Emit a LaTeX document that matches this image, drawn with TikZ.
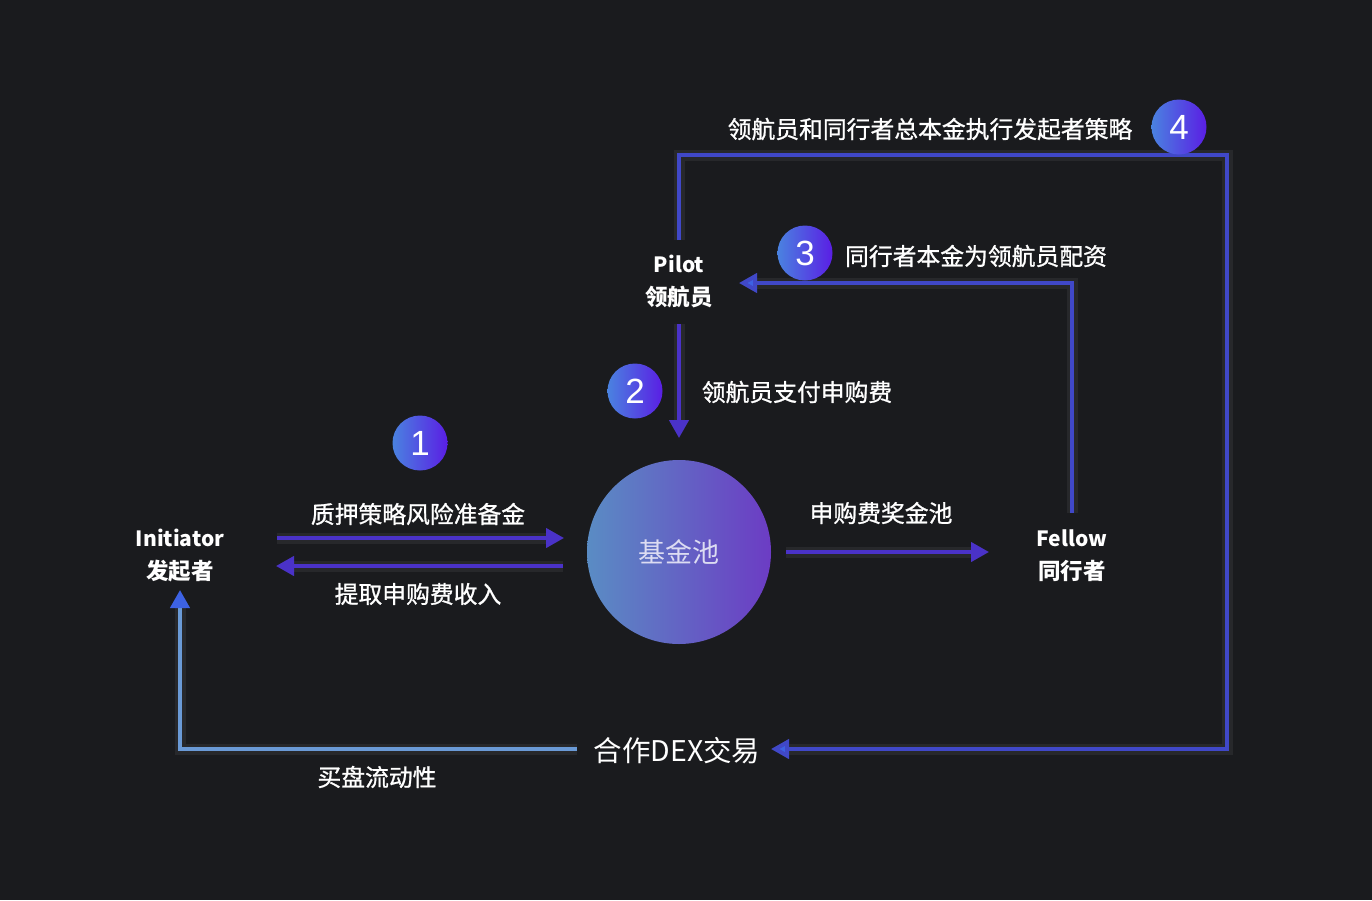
\documentclass[tikz,border=0pt]{standalone}
\usepackage{fontspec}
\setmainfont{Noto Sans CJK SC}
\newfontfamily\lblfont[FakeBold=1]{Noto Sans CJK SC}
\newfontfamily\numfont{Liberation Sans}
\usetikzlibrary{arrows.meta,shadings}
\definecolor{bg}{HTML}{1A1B1E}
\definecolor{arrpurple}{HTML}{4A32C8}
\definecolor{arrblue}{HTML}{4048C8}
\definecolor{headblue}{HTML}{3D62E4}
\definecolor{liqblue}{HTML}{6A9AD6}
\definecolor{poolL}{HTML}{5A8CC4}
\definecolor{poolR}{HTML}{6C3CC4}
\definecolor{badgeL}{HTML}{4A82E0}
\definecolor{badgeR}{HTML}{5A1EE4}
\definecolor{pooltext}{HTML}{DCDCF2}
\newcommand{\twoline}[2]{\begin{tabular}{@{}c@{}}{\fontsize{21}{33}\selectfont #1}\\#2\end{tabular}}
\tikzset{
  x=1pt, y=-1pt,
  actor/.style={text=white, font=\bfseries\fontsize{22.5}{33}\selectfont, inner sep=0pt},
  lbl/.style={text=white, font=\lblfont\fontsize{23.8}{28}\selectfont, inner sep=0pt},
  badge/.style={circle, minimum size=55pt, inner sep=0pt, left color=badgeL, right color=badgeR, text=white, font=\numfont\fontsize{35}{35}\selectfont},
  glow/.style={preaction={draw=white, opacity=0.06, line width=11pt}},
  flow/.style={glow, line width=4pt, draw=arrpurple, -{Triangle[length=18pt,width=19pt]}},
  loopb/.style={glow, line width=4pt, draw=arrblue, -{Triangle[length=18pt,width=19pt,fill=headblue]}},
  liq/.style={glow, line width=4pt, draw=liqblue, -{Triangle[length=18pt,width=19pt,fill=headblue,color=headblue]}},
}
\begin{document}
\begin{tikzpicture}
\fill[bg] (0,0) rectangle (1372,900);
\useasboundingbox (0,0) rectangle (1372,900);

% coordinates
\coordinate (a1s) at (277,538);
\coordinate (a1e) at (564,538);
\coordinate (a2s) at (563,566);
\coordinate (a2e) at (276,566);
\coordinate (p1) at (679,324);
\coordinate (p2) at (679,438);
\coordinate (f1) at (786,552);
\coordinate (f2) at (989,552);
\coordinate (c3a) at (1072,513);
\coordinate (c3b) at (1072,283);
\coordinate (c3c) at (739,283);
\coordinate (c4a) at (679,240);
\coordinate (c4b) at (679,155);
\coordinate (c4c) at (1227,155);
\coordinate (c4d) at (1227,749);
\coordinate (c4e) at (771,749);
\coordinate (l1) at (577,749);
\coordinate (l2) at (180,749);
\coordinate (l3) at (180,590);

% connectors
\draw[flow] (a1s) -- (a1e);
\draw[flow] (a2s) -- (a2e);
\draw[flow] (p1) -- (p2);
\draw[flow] (f1) -- (f2);
\draw[loopb] (c3a) -- (c3b) -- (c3c);
\draw[loopb] (c4a) -- (c4b) -- (c4c) -- (c4d) -- (c4e);
\draw[liq] (l1) -- (l2) -- (l3);

% pool and dex
\node[circle, minimum size=184pt, inner sep=0pt, left color=poolL, right color=poolR,
      text=pooltext, font=\fontsize{27}{27}\selectfont] (pool) at (679,552) {基金池};
\node[text=white, font=\fontsize{28.5}{28}\selectfont, inner sep=0pt] (dex) at (677,751) {合作DEX交易};

% labels
\node[lbl] (t1) at (418,514) {质押策略风险准备金};
\node[lbl] (t1b) at (418,594) {提取申购费收入};
\node[lbl] (t2) at (797,392) {领航员支付申购费};
\node[lbl] (t5) at (881,513) {申购费奖金池};
\node[lbl] (t3) at (976,256) {同行者本金为领航员配资};
\node[lbl] (t4) at (930,129) {领航员和同行者总本金执行发起者策略};
\node[lbl] (t6) at (377,777) {买盘流动性};

% actors
\node[actor] (init) at (180,556) {\twoline{Initiator}{发起者}};
\node[actor] (pilot) at (679,282) {\twoline{Pilot}{领航员}};
\node[actor] (fellow) at (1072,556) {\twoline{Fellow}{同行者}};

% badges
\node[badge] (b1) at (420,443) {1};
\node[badge] (b2) at (635,391) {2};
\node[badge] (b3) at (805,253) {3};
\node[badge] (b4) at (1179,127) {4};
\end{tikzpicture}
\end{document}
